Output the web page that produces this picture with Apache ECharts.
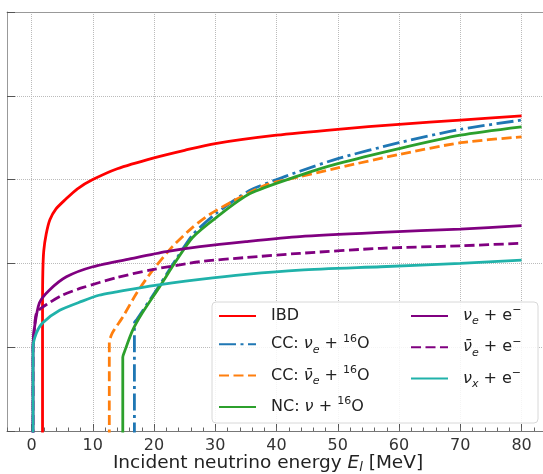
<!DOCTYPE html>
<html>
<head>
<meta charset="utf-8">
<script src="https://cdn.jsdelivr.net/npm/echarts@6/dist/echarts.min.js"></script>
<style>
  html, body { margin: 0; padding: 0; background: #fff; }
  #chart { width: 543px; height: 474px; }
</style>
</head>
<body>
<div id="chart"></div>
<script>
// energies in MeV, y values in decades above the bottom of the plot
const xTicks = [0, 10, 20, 30, 40, 50, 60, 70, 80]

const ibdE = [1.8, 1.8, 1.85, 2.0, 2.4, 3.0, 4.0, 5.5, 7.5, 10, 14, 20, 25, 30, 40, 50, 60, 70, 80]
const ibdY = [-0.1, 1.5, 1.9, 2.15, 2.35, 2.52, 2.65, 2.76, 2.89, 3.0, 3.13, 3.26, 3.35, 3.43, 3.53, 3.6, 3.66, 3.71, 3.76]

const ccNueE = [16.8, 16.8, 17.2, 18.1, 20.9, 23.7, 26.3, 30.2, 35.6, 40, 43.8, 50, 60, 70, 80]
const ccNueY = [-0.1, 1.29, 1.33, 1.43, 1.74, 2.06, 2.34, 2.6, 2.87, 3.0, 3.1, 3.25, 3.44, 3.6, 3.71]

const ccNuebarE = [12.7, 12.7, 13.2, 14.9, 17.2, 19.8, 23, 26.3, 29, 32.8, 38.4, 41.7, 50, 60, 70, 80]
const ccNuebarY = [-0.1, 1.05, 1.17, 1.36, 1.65, 1.92, 2.2, 2.43, 2.58, 2.74, 2.94, 3.0, 3.14, 3.3, 3.44, 3.51]

const ncE = [14.9, 14.9, 15.2, 16.5, 18.1, 20.9, 23.7, 26.3, 30.2, 35.6, 43.8, 50, 60, 70, 80]
const ncY = [-0.1, 0.88, 0.95, 1.2, 1.41, 1.72, 2.04, 2.31, 2.55, 2.83, 3.05, 3.19, 3.37, 3.53, 3.63]

const esNueE = [0.25, 0.25, 0.5, 1.3, 2.9, 5.7, 10, 16.5, 22, 27.5, 35, 43.8, 57, 70, 80]
const esNueY = [-0.1, 1.0, 1.24, 1.53, 1.68, 1.84, 1.96, 2.06, 2.14, 2.2, 2.26, 2.32, 2.37, 2.41, 2.45]

const esNuebarE = [0.25, 0.25, 0.5, 0.9, 2.9, 5, 8.3, 13.9, 19.3, 27.5, 35, 43.8, 57, 70, 80]
const esNuebarY = [-0.1, 1.0, 1.25, 1.42, 1.53, 1.62, 1.71, 1.83, 1.92, 2.02, 2.07, 2.12, 2.18, 2.21, 2.24]

const esNuxE = [0.25, 0.25, 0.8, 1.8, 4.6, 8.3, 11, 13.9, 19.3, 27.5, 35, 43.8, 57, 70, 80]
const esNuxY = [-0.1, 1.0, 1.17, 1.29, 1.44, 1.55, 1.62, 1.66, 1.73, 1.81, 1.87, 1.92, 1.96, 2.0, 2.04]

const labels = {
  ibd: '{g|}{t|IBD}',
  ccNue: '{g|}{t|CC: }{i|ν}{s|e}{t| + }{p|16}{t|O}',
  ccNuebar: '{g|}{t|CC: }{i|ν̄}{s|e}{t| + }{p|16}{t|O}',
  nc: '{g|}{t|NC: }{i|ν}{t| + }{p|16}{t|O}',
  esNue: '{g|}{i|ν}{s|e}{t| + e}{p|−}',
  esNuebar: '{g|}{i|ν̄}{s|e}{t| + e}{p|−}',
  esNux: '{g|}{i|ν}{s|x}{t| + e}{p|−}'
}

const zip = (xs, ys) => xs.map((x, i) => [x, ys[i]])

const font = 'DejaVu Sans'
const rich = {
  g: { width: 10 },
  t: { fontSize: 16, lineHeight: 22, fontFamily: font, color: '#222' },
  i: { fontSize: 16, lineHeight: 22, fontFamily: font, fontStyle: 'italic', color: '#222' },
  s: { fontSize: 11, lineHeight: 11, fontFamily: font, fontStyle: 'italic', verticalAlign: 'bottom', color: '#222' },
  p: { fontSize: 11, lineHeight: 11, fontFamily: font, verticalAlign: 'top', color: '#222' }
}

function line (name, color, xs, ys, type) {
  return {
    name: name,
    type: 'line',
    xAxisIndex: 0,
    data: zip(xs, ys),
    showSymbol: false,
    symbol: 'none',
    smooth: 0.25,
    clip: true,
    lineStyle: { color: color, width: 2.8, type: type || 'solid' },
    itemStyle: { color: color }
  }
}

const chart = echarts.init(document.getElementById('chart'), null, { renderer: 'canvas' })

const legendBase = {
  orient: 'vertical',
  itemWidth: 37,
  itemHeight: 2,
  itemGap: 9.3,
  padding: 0,
  selectedMode: false,
  itemStyle: { opacity: 0 },
  formatter: name => labels[name],
  textStyle: { rich: rich }
}

chart.setOption({
  animation: false,
  grid: { left: 7, right: 0, top: 12, bottom: 43, outerBoundsMode: 'none', containLabel: false },
  xAxis: [{
    type: 'value',
    min: -4,
    max: 83.5,
    axisLine: { show: true, onZero: false, lineStyle: { color: '#777', width: 1 } },
    axisTick: { show: true, inside: true, length: 7, customValues: xTicks, lineStyle: { color: '#555' } },
    axisLabel: {
      customValues: xTicks,
      fontSize: 16, fontFamily: font, color: '#333', margin: 7
    },
    splitLine: { show: true, lineStyle: { color: '#bbb', type: 'dotted', width: 1 } },
    name: 'Incident neutrino energy {i|E}{s|l} [MeV]',
    nameLocation: 'middle',
    nameGap: 21,
    nameMoveOverlap: false,
    nameTextStyle: {
      padding: [0, 14, 0, 0],
      rich: {
        t: { fontSize: 18.5, fontFamily: font, color: '#222' },
        i: { fontSize: 18.5, lineHeight: 22, fontFamily: font, fontStyle: 'italic', color: '#222' },
        s: { fontSize: 13, lineHeight: 13, fontFamily: font, fontStyle: 'italic', verticalAlign: 'bottom', color: '#222' }
      },
      fontSize: 18.5, lineHeight: 22, fontFamily: font, color: '#222'
    }
  }, {
    // minor ticks every 2 MeV
    type: 'value',
    min: -4,
    max: 83.5,
    interval: 2,
    position: 'bottom',
    axisLine: { show: false, onZero: false },
    axisTick: { show: true, inside: true, length: 3.5, lineStyle: { color: '#666' } },
    axisLabel: { show: false },
    splitLine: { show: false }
  }, {
    // top frame line
    type: 'value',
    min: -4,
    max: 83.5,
    position: 'top',
    axisLine: { show: true, onZero: false, lineStyle: { color: '#999', width: 1 } },
    axisTick: { show: false },
    axisLabel: { show: false },
    splitLine: { show: false }
  }],
  yAxis: {
    type: 'value',
    min: 0,
    max: 5,
    interval: 1,
    axisLine: { show: true, onZero: false, lineStyle: { color: '#999' } },
    axisTick: { show: true, inside: true, length: 8, lineStyle: { color: '#555' } },
    axisLabel: { show: false },
    splitLine: { show: true, lineStyle: { color: '#bbb', type: 'dotted', width: 1 } }
  },
  graphic: [{
    type: 'rect',
    z: 3,
    shape: { x: 212, y: 302, width: 326, height: 121, r: 4 },
    style: { fill: 'rgba(255,255,255,0.85)', stroke: '#d8d8d8', lineWidth: 1 }
  }],
  legend: [
    Object.assign({}, legendBase, { left: 218, top: 308, data: ['ibd', 'ccNue', 'ccNuebar', 'nc'] }),
    Object.assign({}, legendBase, { left: 410, top: 305, data: ['esNue', 'esNuebar', 'esNux'] })
  ],
  series: [
    line('ibd', '#ff0000', ibdE, ibdY),
    line('ccNue', '#1f77b4', ccNueE, ccNueY, [17, 4.5, 3, 4.5]),
    line('ccNuebar', '#ff7f0e', ccNuebarE, ccNuebarY, [10, 4.5]),
    line('nc', '#2ca02c', ncE, ncY),
    line('esNue', '#800080', esNueE, esNueY),
    line('esNuebar', '#800080', esNuebarE, esNuebarY, [10, 4.5]),
    line('esNux', '#20b2aa', esNuxE, esNuxY)
  ]
})
</script>
</body>
</html>
